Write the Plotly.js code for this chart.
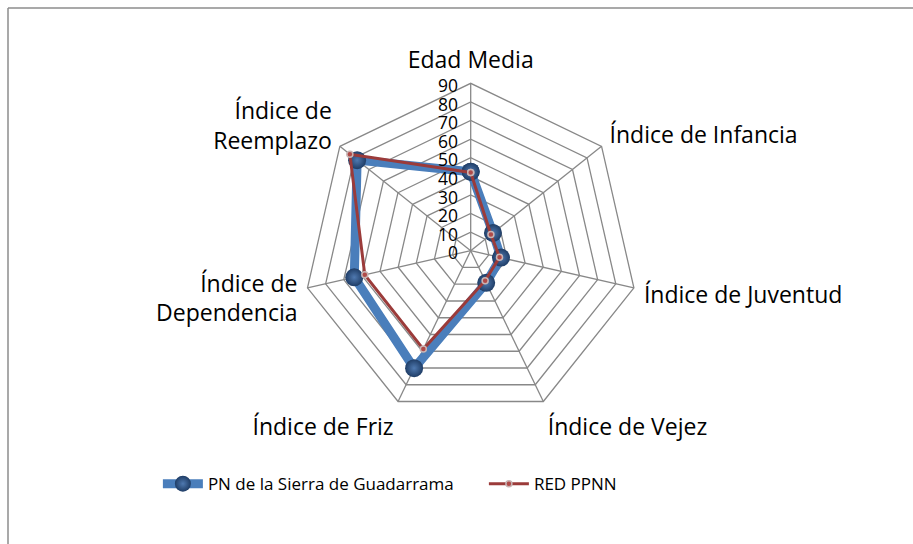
<!DOCTYPE html>
<html>
<head>
<meta charset="utf-8">
<script src="https://cdn.plot.ly/plotly-3.0.1.min.js"></script>
<style>html,body{margin:0;padding:0;background:#fff;}#chart{width:913px;height:544px;}</style>
</head>
<body>
<div id="chart"></div>
<script>
var categories = ["Edad Media", "Índice de Infancia", "Índice de Juventud", "Índice de Vejez", "Índice de Friz", "Índice de<br>Dependencia", "Índice de<br>Reemplazo"];
var seriesNames = ["PN de la Sierra de Guadarrama", "RED PPNN"];
var guadarrama = [42.5, 15.3, 16.7, 19.2, 70.1, 64.2, 78.1];
var redPPNN = [42, 13.9, 15.9, 17.9, 58.7, 58.4, 83.1];
var radialTicks = [0, 10, 20, 30, 40, 50, 60, 70, 80, 90];

function closeLoop(a){ return a.concat([a[0]]); }

var FONT = "'Open Sans', 'Noto Sans', sans-serif";

var traces = [
  {
    type: "scatterpolar",
    name: seriesNames[0],
    r: closeLoop(guadarrama),
    theta: closeLoop(categories),
    mode: "lines+markers",
    line: {color: "#4a7ebb", width: 9},
    marker: {size: 18, color: "#1f3d66", gradient: {type: "radial", color: "#4f79b0"}, line: {width: 0}},
    cliponaxis: false
  },
  {
    type: "scatterpolar",
    name: seriesNames[1],
    r: closeLoop(redPPNN),
    theta: closeLoop(categories),
    mode: "lines+markers",
    line: {color: "#9b3b3a", width: 3},
    marker: {size: 6, color: "#b04a48", line: {color: "#c8b4b4", width: 1.5}},
    cliponaxis: false
  }
];

var layout = {
  width: 913, height: 544,
  margin: {l: 0, r: 0, t: 0, b: 0},
  paper_bgcolor: "#ffffff",
  font: {family: FONT, color: "#000000", size: 18},
  showlegend: true,
  legend: {orientation: "h", x: 0.53, xanchor: "center", y: 0.11, yanchor: "middle", font: {size: 17, family: FONT}, itemwidth: 40, entrywidth: 271},
  polar: {
    domain: {x: [0.3322, 0.6989], y: [0.2314, 0.8469]},
    bgcolor: "#ffffff",
    gridshape: "linear",
    angularaxis: {
      direction: "clockwise",
      rotation: 90,
      categoryorder: "array",
      categoryarray: categories,
      showline: true,
      linecolor: "#888888",
      linewidth: 1.3,
      gridcolor: "#888888",
      gridwidth: 1.3,
      ticks: "outside",
      ticklen: 5,
      tickcolor: "rgba(0,0,0,0)",
      tickfont: {size: 23, family: FONT, color: "#000"}
    },
    radialaxis: {
      range: [0, 90],
      tickvals: radialTicks,
      ticktext: radialTicks.map(String),
      angle: 90,
      side: "counterclockwise",
      showline: false,
      ticks: "",
      gridcolor: "#888888",
      gridwidth: 1.3,
      tickfont: {size: 17.5, family: FONT, color: "#000"}
    }
  },
  shapes: [
    {type: "line", xref: "paper", yref: "paper", x0: 8/913, x1: 1.01, y0: 1 - 8/544, y1: 1 - 8/544, line: {color: "#8c8c8c", width: 1.5}},
    {type: "line", xref: "paper", yref: "paper", x0: 8/913, x1: 8/913, y0: 1 - 8/544, y1: -0.01, line: {color: "#8c8c8c", width: 1.5}}
  ]
};

Plotly.newPlot("chart", traces, layout, {displayModeBar: false, staticPlot: true});
</script>
</body>
</html>
